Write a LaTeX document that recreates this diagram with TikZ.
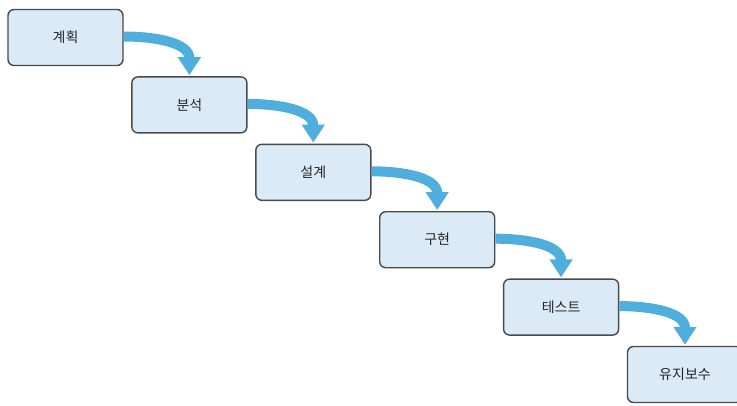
\documentclass[tikz,border=0pt]{standalone}
\usepackage{fontspec}
\setmainfont{Noto Sans CJK KR}
\usepackage{xcolor}
\usetikzlibrary{arrows.meta,positioning}

\definecolor{boxfill}{HTML}{DAEAF7}
\definecolor{boxline}{HTML}{4A4A4A}
\definecolor{flow}{HTML}{4FAEDB}

\begin{document}
\begin{tikzpicture}[x=1pt, y=-1pt, node distance=10pt and 7.5pt, inner sep=2pt,
  phase/.style={draw=boxline, fill=boxfill, line width=1.4pt, rounded corners=6pt,
    minimum width=115pt, minimum height=56pt, font=\fontsize{14}{16}\selectfont, text=black!85},
  flowarrow/.style={draw=flow, line width=10pt, shorten >=1pt,
    -{Triangle[width=22pt,length=18pt]}}]
\useasboundingbox (0,0) rectangle (737,405);
\clip (0,0) rectangle (737,405);

\node [phase] (s0) at (65.5,37.5) {계획};
\node [phase] (s1) [below right=of s0] {분석};
\node [phase] (s2) [below right=of s1] {설계};
\node [phase] (s3) [below right=of s2] {구현};
\node [phase] (s4) [below right=of s3] {테스트};
\node [phase] (s5) [below right=of s4] {유지보수};

\foreach \a/\b in {s0/s1, s1/s2, s2/s3, s3/s4, s4/s5}
  \draw [flowarrow] ([yshift=1pt]\a.east) to[out=0, in=90, looseness=1.1] (\b.north);

\end{tikzpicture}
\end{document}
